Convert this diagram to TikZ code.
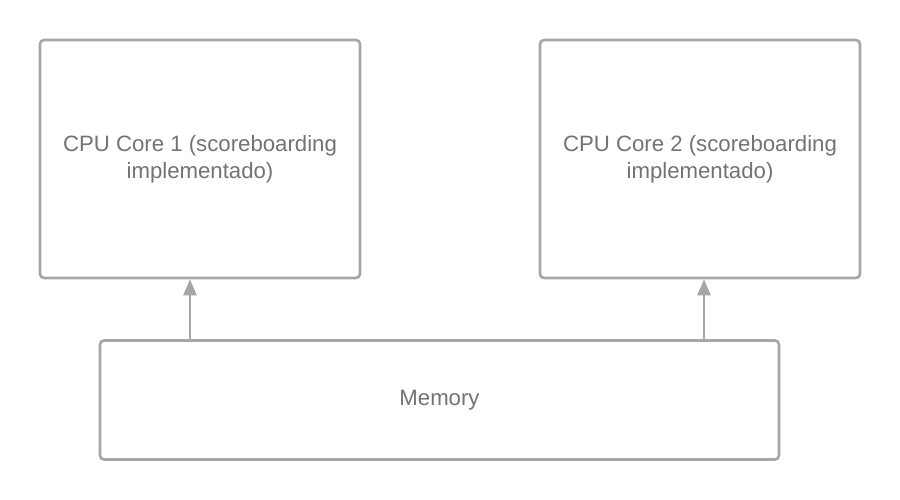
\documentclass[tikz,border=0pt]{standalone}
\usepackage{fontspec}
\setmainfont{Liberation Sans}
\usetikzlibrary{arrows.meta}
\definecolor{lineg}{HTML}{A6A6A6}
\definecolor{textg}{HTML}{737373}
\begin{document}
\begin{tikzpicture}[x=1pt,y=-1pt,
  boxstyle/.style={draw=lineg,line width=2.6pt,rounded corners=4pt,fill=white,
    text=textg,align=center,font=\fontsize{22.2}{27}\selectfont,inner sep=0pt},
  conn/.style={draw=lineg,line width=2.6pt,-{Triangle[length=16pt,width=13pt]}}]
\useasboundingbox[fill=white] (0,0) rectangle (900,500);
\node[boxstyle,minimum width=320pt,minimum height=238pt] (c1) at (200,159) {CPU Core 1 (scoreboarding\\implementado)};
\node[boxstyle,minimum width=320pt,minimum height=238pt] (c2) at (700,159) {CPU Core 2 (scoreboarding\\implementado)};
\node[boxstyle,minimum width=679pt,minimum height=119pt] (mem) at (439.5,400) {Memory};
\draw[conn] (mem.north -| 190,0) -- (c1.south -| 190,0);
\draw[conn] (mem.north -| 704,0) -- (c2.south -| 704,0);
\end{tikzpicture}
\end{document}
